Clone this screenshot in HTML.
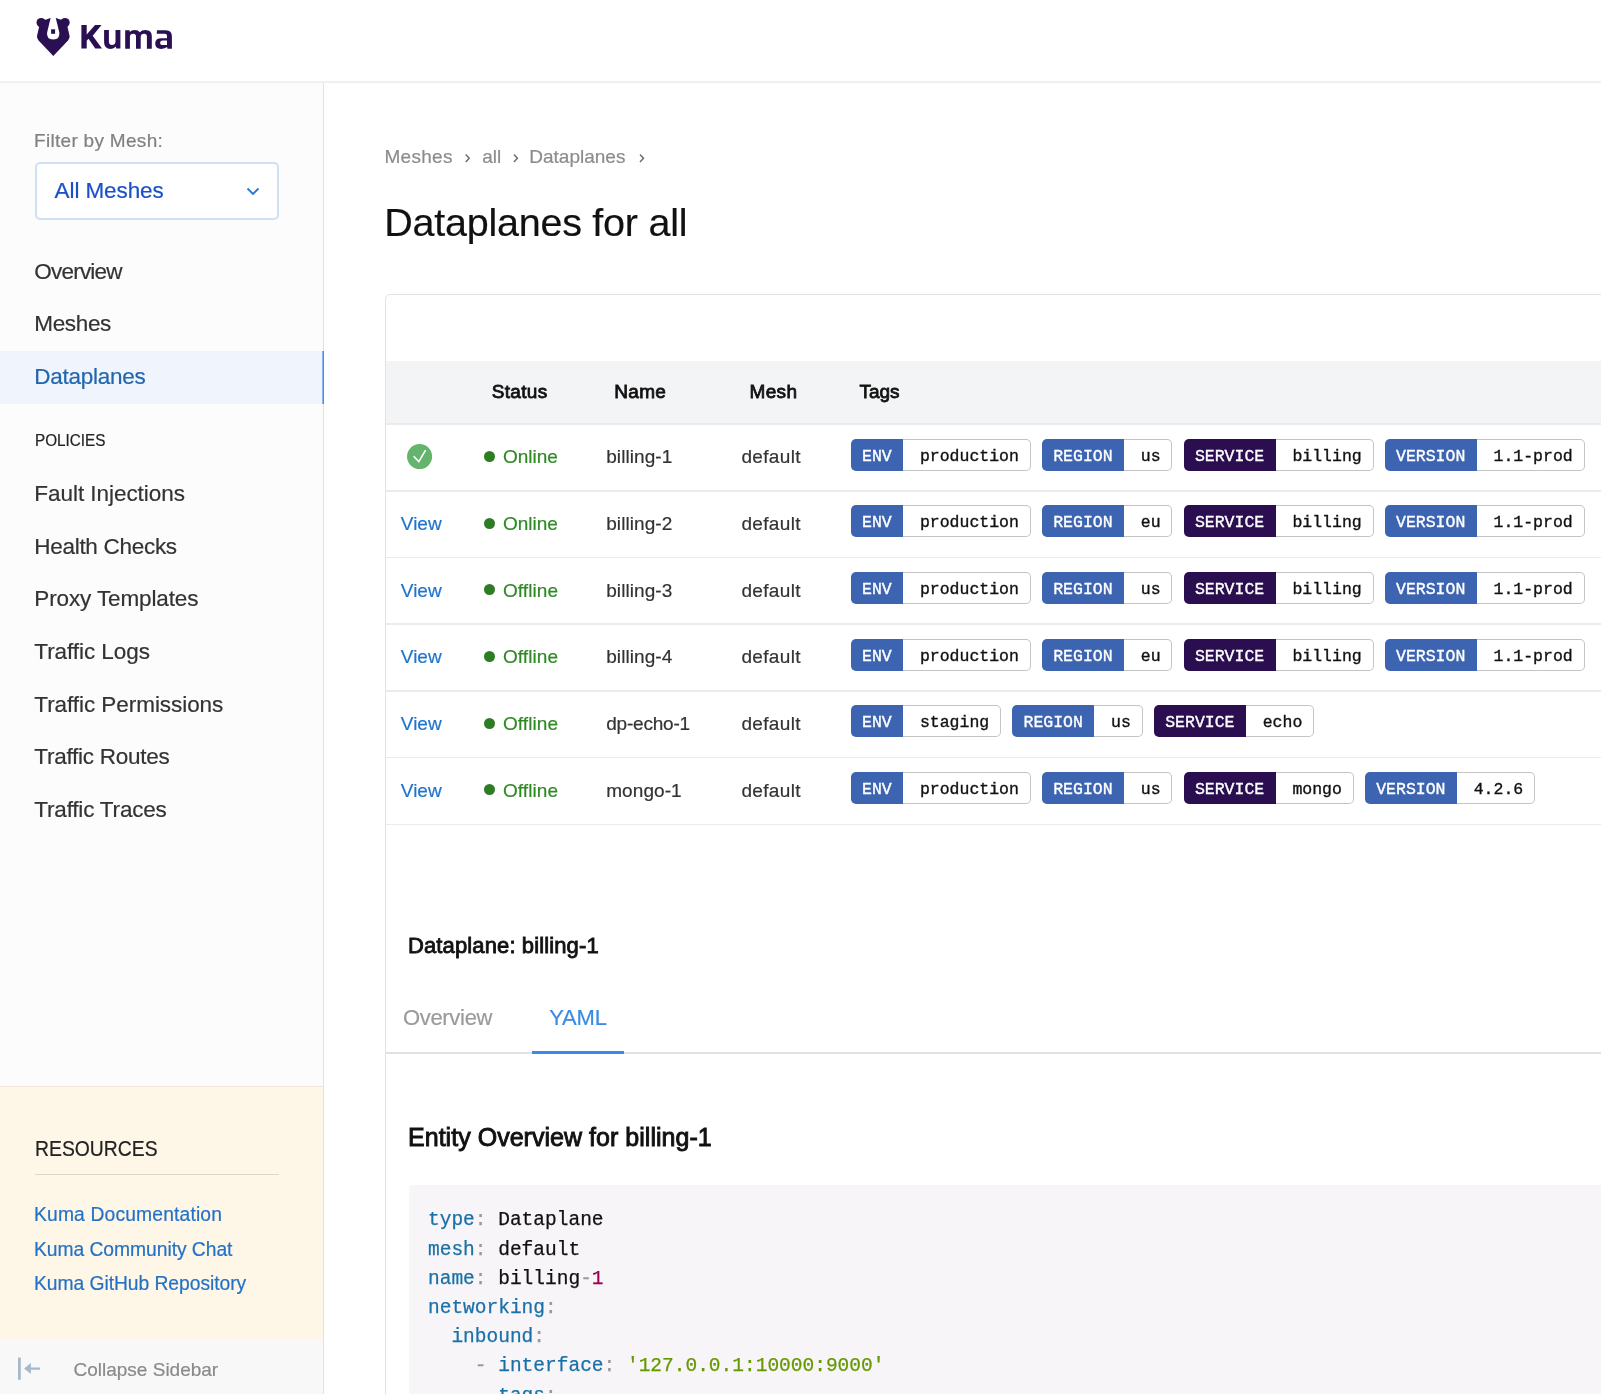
<!DOCTYPE html>
<html><head><meta charset="utf-8"><title>Kuma - Dataplanes</title>
<style>
html,body{margin:0;padding:0;width:1602px;height:1394px;overflow:hidden;background:#fff}
body{position:relative;font-family:'Liberation Sans', sans-serif}
.t{position:absolute;white-space:nowrap;-webkit-text-stroke:0.2px currentColor}
.r{position:absolute}
.tags{position:absolute;display:flex;white-space:nowrap;font-family:'Liberation Mono', monospace;font-size:16.5px}
.tg{display:flex;height:32px;margin-right:11.1px}
.tl{color:#fff;padding:0 11.4px;line-height:36px;height:32px;overflow:hidden;-webkit-text-stroke:0.35px currentColor;border-radius:5px 0 0 5px}
.tv{color:#111;padding:0 10.8px 0 16.8px;line-height:34px;height:30px;overflow:hidden;-webkit-text-stroke:0.35px currentColor;border:1px solid #c4c4c4;border-left:none;border-radius:0 5px 5px 0;background:#fff}
</style></head><body><div id="root" style="position:absolute;left:0;top:0;width:1602px;height:1394px;will-change:transform">
<div class="r" style="left:0px;top:0px;width:1602px;height:81px;background:#fff"></div>
<div class="r" style="left:0px;top:81px;width:1602px;height:2px;background:#eef0f3"></div>
<div class="r" style="left:0px;top:83px;width:323px;height:1311px;background:#fcfcfc"></div>
<div class="r" style="left:323px;top:83px;width:1px;height:1311px;background:#e2e2e5"></div>
<div class="r" style="left:324px;top:83px;width:1278px;height:1311px;background:#fff"></div>
<div class="r" style="left:1601px;top:0px;width:1px;height:1394px;background:#fff;z-index:5"></div>
<svg class="r" style="left:32px;top:14px" width="42" height="46" viewBox="0 0 42 46">
<g fill="#2a0f52">
<circle cx="9.2" cy="8.6" r="4.7"/>
<circle cx="33" cy="8.6" r="4.7"/>
<path d="M7.2 12.5 L5 22 Q4.7 24.6 6.6 26.6 L21.3 41.9 L36 26.6 Q37.9 24.6 37.6 22 L35.4 12.5 L31 6.5 L24 4.1 L18.4 4.1 L11.6 6.5 Z"/>
</g>
<path fill="#fff" d="M18.6 4 L23.8 4 L27.3 18.6 Q28.2 25.4 21.2 25.5 Q14.2 25.4 15.1 18.6 Z"/>
<rect x="19.1" y="15.3" width="4" height="4.5" fill="#2a0f52"/>
</svg>
<svg class="r" style="left:0;top:0" width="200" height="80" viewBox="0 0 200 80"><g fill="#2a0f52" fill-rule="evenodd">
<path d="M81.4 25 H86.7 V34.6 L95 25 H101.5 L92.7 35.7 L102 48.6 H95.3 L88.5 38.8 L86.7 40.8 V48.6 H81.4 Z"/>
<path d="M104.1 30.1 H108.9 V41.8 Q108.9 44.9 111.9 44.9 Q115.5 44.9 115.5 41.5 V30.1 H120.4 V48.6 H116.1 L115.8 46.6 Q114 48.9 110.6 48.9 Q104.1 48.9 104.1 42.3 Z"/>
<path d="M125.2 30.3 H129.6 L129.8 32.1 Q131.3 30 134.6 30 Q138.4 30 139.8 32.3 Q141.6 30 145.3 30 Q151.8 30 151.8 36.2 V48.8 H146.9 V36.3 Q146.9 33.8 144.2 33.8 Q140.7 33.8 140.7 36.8 V48.8 H136 V36.3 Q136 33.8 133.3 33.8 Q129.9 33.8 129.9 37 V48.8 H125.2 Z"/>
<path d="M157 30.3 H165.8 Q171.9 30.3 171.9 36.3 V48.8 H167.5 L167.1 47.1 Q165.1 48.9 161.2 48.9 Q155.2 48.9 155.2 43.6 Q155.2 38.2 161.2 38.2 H167 V35.6 Q167 33.8 164.8 33.8 H156.7 Z M160.1 42.9 Q160.1 40.6 162.6 40.6 H167 V45.1 H162.6 Q160.1 45.1 160.1 42.9 Z"/>
</g></svg>
<div class="t " style="left:34.00px;top:127.71px;font-size:19px;line-height:25px;color:#808080;font-weight:400;font-family:'Liberation Sans', sans-serif;letter-spacing:0.3px">Filter by Mesh:</div>
<div class="r" style="left:35px;top:162px;width:244px;height:58px;box-sizing:border-box;border:2px solid #d0e0f3;border-radius:5px;background:#fff"></div>
<div class="t " style="left:54.60px;top:176.20px;font-size:22.5px;line-height:29px;color:#1a50c8;font-weight:400;font-family:'Liberation Sans', sans-serif;letter-spacing:-0.1px">All Meshes</div>
<svg class="r" style="left:246px;top:187px" width="14" height="9" viewBox="0 0 14 9"><path d="M1.5 1.5 L7 7 L12.5 1.5" fill="none" stroke="#2b78d0" stroke-width="1.9"/></svg>
<div class="t " style="left:34.30px;top:256.60px;font-size:22.5px;line-height:29px;color:#333;font-weight:400;font-family:'Liberation Sans', sans-serif;letter-spacing:-0.786px">Overview</div>
<div class="t " style="left:34.30px;top:309.40px;font-size:22.5px;line-height:29px;color:#333;font-weight:400;font-family:'Liberation Sans', sans-serif;letter-spacing:-0.36px">Meshes</div>
<div class="r" style="left:0px;top:351px;width:322px;height:53px;background:#f0f4fd"></div>
<div class="r" style="left:322px;top:351px;width:1px;height:53px;background:#8db5f2"></div>
<div class="r" style="left:323px;top:351px;width:1px;height:53px;background:#4d8cec"></div>
<div class="t " style="left:34.30px;top:362.10px;font-size:22.5px;line-height:29px;color:#2266ad;font-weight:400;font-family:'Liberation Sans', sans-serif;letter-spacing:-0.256px">Dataplanes</div>
<div class="t " style="left:34.50px;top:430.11px;font-size:17px;line-height:22px;color:#222;font-weight:400;font-family:'Liberation Sans', sans-serif;transform:scaleX(0.899);transform-origin:0 0">POLICIES</div>
<div class="t " style="left:34.30px;top:479.20px;font-size:22.5px;line-height:29px;color:#333;font-weight:400;font-family:'Liberation Sans', sans-serif;letter-spacing:-0.047px">Fault Injections</div>
<div class="t " style="left:34.30px;top:531.80px;font-size:22.5px;line-height:29px;color:#333;font-weight:400;font-family:'Liberation Sans', sans-serif;letter-spacing:-0.292px">Health Checks</div>
<div class="t " style="left:34.30px;top:584.40px;font-size:22.5px;line-height:29px;color:#333;font-weight:400;font-family:'Liberation Sans', sans-serif;letter-spacing:-0.129px">Proxy Templates</div>
<div class="t " style="left:34.30px;top:637.00px;font-size:22.5px;line-height:29px;color:#333;font-weight:400;font-family:'Liberation Sans', sans-serif;letter-spacing:-0.055px">Traffic Logs</div>
<div class="t " style="left:34.30px;top:689.60px;font-size:22.5px;line-height:29px;color:#333;font-weight:400;font-family:'Liberation Sans', sans-serif;letter-spacing:-0.056px">Traffic Permissions</div>
<div class="t " style="left:34.30px;top:742.20px;font-size:22.5px;line-height:29px;color:#333;font-weight:400;font-family:'Liberation Sans', sans-serif;letter-spacing:-0.262px">Traffic Routes</div>
<div class="t " style="left:34.30px;top:794.80px;font-size:22.5px;line-height:29px;color:#333;font-weight:400;font-family:'Liberation Sans', sans-serif;letter-spacing:-0.192px">Traffic Traces</div>
<div class="r" style="left:0px;top:1087px;width:323px;height:253px;background:#fef6e6"></div>
<div class="r" style="left:0px;top:1086px;width:323px;height:1px;background:#efe7d8"></div>
<div class="t " style="left:34.50px;top:1133.90px;font-size:22.5px;line-height:29px;color:#222;font-weight:400;font-family:'Liberation Sans', sans-serif;transform:scaleX(0.86);transform-origin:0 0">RESOURCES</div>
<div class="r" style="left:35px;top:1174px;width:244px;height:1px;background:#ddd6ca"></div>
<div class="t " style="left:34.00px;top:1201.81px;font-size:19.3px;line-height:25px;color:#2472c8;font-weight:400;font-family:'Liberation Sans', sans-serif;letter-spacing:0.15px">Kuma Documentation</div>
<div class="t " style="left:34.00px;top:1236.51px;font-size:19.3px;line-height:25px;color:#2472c8;font-weight:400;font-family:'Liberation Sans', sans-serif;letter-spacing:-0.05px">Kuma Community Chat</div>
<div class="t " style="left:34.00px;top:1271.21px;font-size:19.3px;line-height:25px;color:#2472c8;font-weight:400;font-family:'Liberation Sans', sans-serif;letter-spacing:-0.05px">Kuma GitHub Repository</div>
<div class="r" style="left:0px;top:1340px;width:323px;height:54px;background:#f8f8f8"></div>
<svg class="r" style="left:0;top:1340px" width="60" height="54" viewBox="0 1340 60 54"><g fill="#a7b8cb"><rect x="18" y="1357.6" width="2.8" height="22.2"/><path d="M24.1 1368.5 L30.9 1362.9 V1367.4 H40 V1369.7 H30.9 V1374.1 Z"/></g></svg>
<div class="t " style="left:73.50px;top:1356.71px;font-size:19px;line-height:25px;color:#8a8a8a;font-weight:400;font-family:'Liberation Sans', sans-serif;">Collapse Sidebar</div>
<div class="t " style="left:384.40px;top:144.01px;font-size:19px;line-height:25px;color:#8c8c8c;font-weight:400;font-family:'Liberation Sans', sans-serif;letter-spacing:0.3px">Meshes</div>
<svg class="r" style="left:0;top:0" width="700" height="200" viewBox="0 0 700 200"><g fill="none" stroke="#666f79" stroke-width="1.5"><path d="M465.7 154.6 L469.2 158.3 L465.7 162"/><path d="M513.9 154.6 L517.4 158.3 L513.9 162"/><path d="M640 154.6 L643.5 158.3 L640 162"/></g></svg>
<div class="t " style="left:482.30px;top:144.01px;font-size:19px;line-height:25px;color:#8c8c8c;font-weight:400;font-family:'Liberation Sans', sans-serif;">all</div>
<div class="t " style="left:529.30px;top:144.01px;font-size:19px;line-height:25px;color:#8c8c8c;font-weight:400;font-family:'Liberation Sans', sans-serif;">Dataplanes</div>
<div class="t " style="left:384.30px;top:196.81px;font-size:39.5px;line-height:51px;color:#111;font-weight:400;font-family:'Liberation Sans', sans-serif;letter-spacing:-0.25px">Dataplanes for all</div>
<div class="r" style="left:385px;top:294px;width:1300px;height:1200px;box-sizing:border-box;border:1px solid #e2e2e2;border-radius:5px;background:#fff"></div>
<div class="r" style="left:386px;top:361px;width:1300px;height:62px;background:#f3f4f6"></div>
<div class="r" style="left:386px;top:423px;width:1300px;height:2px;background:#ebebeb"></div>
<div class="t " style="left:491.80px;top:379.21px;font-size:19px;line-height:25px;color:#111;font-weight:400;font-family:'Liberation Sans', sans-serif;letter-spacing:0.3px;-webkit-text-stroke:0.8px #111">Status</div>
<div class="t " style="left:614.30px;top:379.21px;font-size:19px;line-height:25px;color:#111;font-weight:400;font-family:'Liberation Sans', sans-serif;letter-spacing:0.3px;-webkit-text-stroke:0.8px #111">Name</div>
<div class="t " style="left:749.50px;top:379.21px;font-size:19px;line-height:25px;color:#111;font-weight:400;font-family:'Liberation Sans', sans-serif;letter-spacing:0.35px;-webkit-text-stroke:0.8px #111">Mesh</div>
<div class="t " style="left:859.60px;top:379.21px;font-size:19px;line-height:25px;color:#111;font-weight:400;font-family:'Liberation Sans', sans-serif;letter-spacing:-0.1px;-webkit-text-stroke:0.8px #111">Tags</div>
<div class="r" style="left:386px;top:490.0px;width:1300px;height:1.5px;background:#ebebeb"></div>
<svg class="r" style="left:406.8px;top:444.1px" width="25.2" height="25.2" viewBox="0 0 25.2 25.2"><circle cx="12.6" cy="12.6" r="12.6" fill="#64b46e"/><path d="M6.6 12.2 L11.8 17.6 L18.6 6.2" fill="none" stroke="#fff" stroke-width="1.6"/></svg>
<div class="r" style="left:483.7px;top:450.9px;width:11px;height:11px;border-radius:50%;background:#2e7d25"></div>
<div class="t " style="left:502.90px;top:444.31px;font-size:19px;line-height:25px;color:#2f8a24;font-weight:400;font-family:'Liberation Sans', sans-serif;">Online</div>
<div class="t " style="left:606.20px;top:444.31px;font-size:19px;line-height:25px;color:#333;font-weight:400;font-family:'Liberation Sans', sans-serif;letter-spacing:0.08px">billing-1</div>
<div class="t " style="left:741.40px;top:444.31px;font-size:19px;line-height:25px;color:#333;font-weight:400;font-family:'Liberation Sans', sans-serif;letter-spacing:0.35px">default</div>
<div class="tags" style="left:850.6px;top:438.6px"><span class="tg"><span class="tl" style="background:#3c64b1">ENV</span><span class="tv">production</span></span><span class="tg"><span class="tl" style="background:#3c64b1">REGION</span><span class="tv">us</span></span><span class="tg"><span class="tl" style="background:#2a0e50">SERVICE</span><span class="tv">billing</span></span><span class="tg"><span class="tl" style="background:#3c64b1">VERSION</span><span class="tv">1.1-prod</span></span></div>
<div class="r" style="left:386px;top:556.7px;width:1300px;height:1.5px;background:#ebebeb"></div>
<div class="t " style="left:400.80px;top:511.01px;font-size:19px;line-height:25px;color:#1f74cf;font-weight:400;font-family:'Liberation Sans', sans-serif;">View</div>
<div class="r" style="left:483.7px;top:517.6px;width:11px;height:11px;border-radius:50%;background:#2e7d25"></div>
<div class="t " style="left:502.90px;top:511.01px;font-size:19px;line-height:25px;color:#2f8a24;font-weight:400;font-family:'Liberation Sans', sans-serif;">Online</div>
<div class="t " style="left:606.20px;top:511.01px;font-size:19px;line-height:25px;color:#333;font-weight:400;font-family:'Liberation Sans', sans-serif;letter-spacing:0.08px">billing-2</div>
<div class="t " style="left:741.40px;top:511.01px;font-size:19px;line-height:25px;color:#333;font-weight:400;font-family:'Liberation Sans', sans-serif;letter-spacing:0.35px">default</div>
<div class="tags" style="left:850.6px;top:505.3px"><span class="tg"><span class="tl" style="background:#3c64b1">ENV</span><span class="tv">production</span></span><span class="tg"><span class="tl" style="background:#3c64b1">REGION</span><span class="tv">eu</span></span><span class="tg"><span class="tl" style="background:#2a0e50">SERVICE</span><span class="tv">billing</span></span><span class="tg"><span class="tl" style="background:#3c64b1">VERSION</span><span class="tv">1.1-prod</span></span></div>
<div class="r" style="left:386px;top:623.4px;width:1300px;height:1.5px;background:#ebebeb"></div>
<div class="t " style="left:400.80px;top:577.71px;font-size:19px;line-height:25px;color:#1f74cf;font-weight:400;font-family:'Liberation Sans', sans-serif;">View</div>
<div class="r" style="left:483.7px;top:584.3px;width:11px;height:11px;border-radius:50%;background:#2e7d25"></div>
<div class="t " style="left:502.90px;top:577.71px;font-size:19px;line-height:25px;color:#2f8a24;font-weight:400;font-family:'Liberation Sans', sans-serif;letter-spacing:0.1px">Offline</div>
<div class="t " style="left:606.20px;top:577.71px;font-size:19px;line-height:25px;color:#333;font-weight:400;font-family:'Liberation Sans', sans-serif;letter-spacing:0.08px">billing-3</div>
<div class="t " style="left:741.40px;top:577.71px;font-size:19px;line-height:25px;color:#333;font-weight:400;font-family:'Liberation Sans', sans-serif;letter-spacing:0.35px">default</div>
<div class="tags" style="left:850.6px;top:572.0px"><span class="tg"><span class="tl" style="background:#3c64b1">ENV</span><span class="tv">production</span></span><span class="tg"><span class="tl" style="background:#3c64b1">REGION</span><span class="tv">us</span></span><span class="tg"><span class="tl" style="background:#2a0e50">SERVICE</span><span class="tv">billing</span></span><span class="tg"><span class="tl" style="background:#3c64b1">VERSION</span><span class="tv">1.1-prod</span></span></div>
<div class="r" style="left:386px;top:690.1px;width:1300px;height:1.5px;background:#ebebeb"></div>
<div class="t " style="left:400.80px;top:644.41px;font-size:19px;line-height:25px;color:#1f74cf;font-weight:400;font-family:'Liberation Sans', sans-serif;">View</div>
<div class="r" style="left:483.7px;top:651.0px;width:11px;height:11px;border-radius:50%;background:#2e7d25"></div>
<div class="t " style="left:502.90px;top:644.41px;font-size:19px;line-height:25px;color:#2f8a24;font-weight:400;font-family:'Liberation Sans', sans-serif;letter-spacing:0.1px">Offline</div>
<div class="t " style="left:606.20px;top:644.41px;font-size:19px;line-height:25px;color:#333;font-weight:400;font-family:'Liberation Sans', sans-serif;letter-spacing:0.08px">billing-4</div>
<div class="t " style="left:741.40px;top:644.41px;font-size:19px;line-height:25px;color:#333;font-weight:400;font-family:'Liberation Sans', sans-serif;letter-spacing:0.35px">default</div>
<div class="tags" style="left:850.6px;top:638.7px"><span class="tg"><span class="tl" style="background:#3c64b1">ENV</span><span class="tv">production</span></span><span class="tg"><span class="tl" style="background:#3c64b1">REGION</span><span class="tv">eu</span></span><span class="tg"><span class="tl" style="background:#2a0e50">SERVICE</span><span class="tv">billing</span></span><span class="tg"><span class="tl" style="background:#3c64b1">VERSION</span><span class="tv">1.1-prod</span></span></div>
<div class="r" style="left:386px;top:756.8px;width:1300px;height:1.5px;background:#ebebeb"></div>
<div class="t " style="left:400.80px;top:711.11px;font-size:19px;line-height:25px;color:#1f74cf;font-weight:400;font-family:'Liberation Sans', sans-serif;">View</div>
<div class="r" style="left:483.7px;top:717.7px;width:11px;height:11px;border-radius:50%;background:#2e7d25"></div>
<div class="t " style="left:502.90px;top:711.11px;font-size:19px;line-height:25px;color:#2f8a24;font-weight:400;font-family:'Liberation Sans', sans-serif;letter-spacing:0.1px">Offline</div>
<div class="t " style="left:606.20px;top:711.11px;font-size:19px;line-height:25px;color:#333;font-weight:400;font-family:'Liberation Sans', sans-serif;letter-spacing:-0.2px">dp-echo-1</div>
<div class="t " style="left:741.40px;top:711.11px;font-size:19px;line-height:25px;color:#333;font-weight:400;font-family:'Liberation Sans', sans-serif;letter-spacing:0.35px">default</div>
<div class="tags" style="left:850.6px;top:705.4px"><span class="tg"><span class="tl" style="background:#3c64b1">ENV</span><span class="tv">staging</span></span><span class="tg"><span class="tl" style="background:#3c64b1">REGION</span><span class="tv">us</span></span><span class="tg"><span class="tl" style="background:#2a0e50">SERVICE</span><span class="tv">echo</span></span></div>
<div class="r" style="left:386px;top:823.5px;width:1300px;height:1.5px;background:#ebebeb"></div>
<div class="t " style="left:400.80px;top:777.81px;font-size:19px;line-height:25px;color:#1f74cf;font-weight:400;font-family:'Liberation Sans', sans-serif;">View</div>
<div class="r" style="left:483.7px;top:784.4px;width:11px;height:11px;border-radius:50%;background:#2e7d25"></div>
<div class="t " style="left:502.90px;top:777.81px;font-size:19px;line-height:25px;color:#2f8a24;font-weight:400;font-family:'Liberation Sans', sans-serif;letter-spacing:0.1px">Offline</div>
<div class="t " style="left:606.20px;top:777.81px;font-size:19px;line-height:25px;color:#333;font-weight:400;font-family:'Liberation Sans', sans-serif;letter-spacing:0.08px">mongo-1</div>
<div class="t " style="left:741.40px;top:777.81px;font-size:19px;line-height:25px;color:#333;font-weight:400;font-family:'Liberation Sans', sans-serif;letter-spacing:0.35px">default</div>
<div class="tags" style="left:850.6px;top:772.1px"><span class="tg"><span class="tl" style="background:#3c64b1">ENV</span><span class="tv">production</span></span><span class="tg"><span class="tl" style="background:#3c64b1">REGION</span><span class="tv">us</span></span><span class="tg"><span class="tl" style="background:#2a0e50">SERVICE</span><span class="tv">mongo</span></span><span class="tg"><span class="tl" style="background:#3c64b1">VERSION</span><span class="tv">4.2.6</span></span></div>
<div class="t " style="left:408.00px;top:930.87px;font-size:22px;line-height:29px;color:#111;font-weight:400;font-family:'Liberation Sans', sans-serif;letter-spacing:0.12px;-webkit-text-stroke:0.85px #111">Dataplane: billing-1</div>
<div class="t " style="left:402.90px;top:1003.17px;font-size:22px;line-height:29px;color:#9a9a9a;font-weight:400;font-family:'Liberation Sans', sans-serif;letter-spacing:-0.3px">Overview</div>
<div class="t " style="left:549.20px;top:1003.17px;font-size:22px;line-height:29px;color:#3a8ae6;font-weight:400;font-family:'Liberation Sans', sans-serif;letter-spacing:-0.2px">YAML</div>
<div class="r" style="left:386px;top:1052px;width:1300px;height:1.5px;background:#e2e2e2"></div>
<div class="r" style="left:532.4px;top:1051.3px;width:91.4px;height:3.2px;background:#3a8ae6"></div>
<div class="t " style="left:408.00px;top:1120.93px;font-size:25px;line-height:32px;color:#111;font-weight:400;font-family:'Liberation Sans', sans-serif;letter-spacing:0.03px;-webkit-text-stroke:0.9px #111">Entity Overview for billing-1</div>
<div class="r" style="left:409px;top:1185px;width:1300px;height:300px;background:#f8f5f8;border-radius:4px"></div>
<div class="t " style="left:428.00px;top:1208.31px;font-size:19.5px;line-height:25px;color:#111;font-weight:400;font-family:'Liberation Mono', monospace;white-space:pre;-webkit-text-stroke:0.25px currentColor"><span style="color:#1a71a8">type</span><span style="color:#999">:</span> Dataplane</div>
<div class="t " style="left:428.00px;top:1237.51px;font-size:19.5px;line-height:25px;color:#111;font-weight:400;font-family:'Liberation Mono', monospace;white-space:pre;-webkit-text-stroke:0.25px currentColor"><span style="color:#1a71a8">mesh</span><span style="color:#999">:</span> default</div>
<div class="t " style="left:428.00px;top:1266.71px;font-size:19.5px;line-height:25px;color:#111;font-weight:400;font-family:'Liberation Mono', monospace;white-space:pre;-webkit-text-stroke:0.25px currentColor"><span style="color:#1a71a8">name</span><span style="color:#999">:</span> billing<span style="color:#999">-</span><span style="color:#905">1</span></div>
<div class="t " style="left:428.00px;top:1295.91px;font-size:19.5px;line-height:25px;color:#111;font-weight:400;font-family:'Liberation Mono', monospace;white-space:pre;-webkit-text-stroke:0.25px currentColor"><span style="color:#1a71a8">networking</span><span style="color:#999">:</span></div>
<div class="t " style="left:428.00px;top:1325.11px;font-size:19.5px;line-height:25px;color:#111;font-weight:400;font-family:'Liberation Mono', monospace;white-space:pre;-webkit-text-stroke:0.25px currentColor">  <span style="color:#1a71a8">inbound</span><span style="color:#999">:</span></div>
<div class="t " style="left:428.00px;top:1354.31px;font-size:19.5px;line-height:25px;color:#111;font-weight:400;font-family:'Liberation Mono', monospace;white-space:pre;-webkit-text-stroke:0.25px currentColor">    <span style="color:#999">-</span> <span style="color:#1a71a8">interface</span><span style="color:#999">:</span> <span style="color:#690">'127.0.0.1:10000:9000'</span></div>
<div class="t " style="left:428.00px;top:1383.51px;font-size:19.5px;line-height:25px;color:#111;font-weight:400;font-family:'Liberation Mono', monospace;white-space:pre;-webkit-text-stroke:0.25px currentColor">      <span style="color:#1a71a8">tags</span><span style="color:#999">:</span></div>
</div></body></html>
